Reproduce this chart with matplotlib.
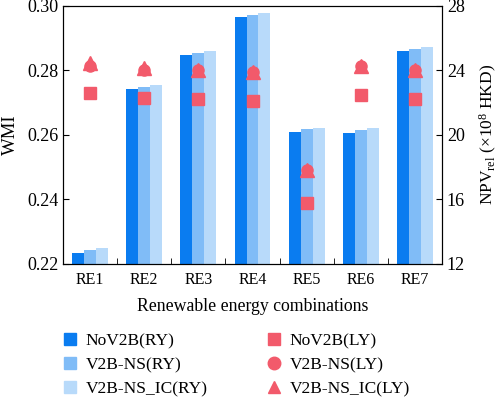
import matplotlib
matplotlib.use("Agg")
import matplotlib.pyplot as plt
from matplotlib.lines import Line2D
import numpy as np

plt.rcParams['font.family'] = ['Liberation Serif', 'DejaVu Serif']
plt.rcParams['mathtext.fontset'] = 'custom'
plt.rcParams['mathtext.rm'] = 'Liberation Serif'
plt.rcParams['mathtext.it'] = 'Liberation Serif:italic'
plt.rcParams['font.size'] = 12

categories = ["RE1", "RE2", "RE3", "RE4", "RE5", "RE6", "RE7"]
wmi_nov2b = [0.2235, 0.2743, 0.2848, 0.2965, 0.2610, 0.2607, 0.2859]
wmi_ns = [0.2243, 0.2750, 0.2855, 0.2971, 0.2618, 0.2616, 0.2865]
wmi_ns_ic = [0.2249, 0.2755, 0.2860, 0.2977, 0.2623, 0.2621, 0.2872]
npv_nov2b = [22.6, 22.3, 22.2, 22.1, 15.8, 22.5, 22.25]
npv_ns = [24.3, 24.0, 24.0, 23.9, 17.8, 24.3, 24.0]
npv_ns_ic = [24.45, 24.15, 24.0, 23.9, 17.8, 24.3, 24.0]

c1, c2, c3 = "#0A7CF0", "#80BCF7", "#B8DAFA"
cm = "#F25A6B"

fig = plt.figure(figsize=(5.0, 3.98), dpi=100)
ax = fig.add_axes([0.126, 0.337, 0.758, 0.648])
x = np.arange(len(categories))
w = 0.22
ax.bar(x - w, wmi_nov2b, w, color=c1, linewidth=0)
ax.bar(x, wmi_ns, w, color=c2, linewidth=0)
ax.bar(x + w, wmi_ns_ic, w, color=c3, linewidth=0)
ax.set_xlim(-0.5, 6.5)
ax.set_ylim(0.22, 0.30)
ax.set_yticks([0.22, 0.24, 0.26, 0.28, 0.30])
ax.set_yticklabels(["0.22", "0.24", "0.26", "0.28", "0.30"], fontsize=13)
ax.set_xticks(x)
ax.set_xticklabels(categories, fontsize=11.5)
ax.set_xticks(np.arange(0.5, 6.0, 1.0), minor=True)
ax.tick_params(axis='x', which='major', length=0, pad=6)
ax.tick_params(axis='x', which='minor', direction='in', length=4)
ax.tick_params(axis='y', direction='in', length=4)
ax.set_ylabel("WMI", fontsize=13.5, labelpad=6)
ax.set_xlabel("Renewable energy combinations", fontsize=12.8, labelpad=7)

ax2 = ax.twinx()
ax2.plot(x, npv_nov2b, 's', color=cm, markersize=8, linestyle='none')
ax2.plot(x, npv_ns_ic, '^', color=cm, markersize=10.5, linestyle='none')
ax2.plot(x, npv_ns, 'o', color=cm, markersize=8, linestyle='none')
ax2.set_ylim(12, 28)
ax2.set_yticks([12, 16, 20, 24, 28])
ax2.set_yticklabels(["12", "16", "20", "24", "28"], fontsize=13)
ax2.tick_params(axis='y', direction='in', length=4)
ax2.set_ylabel(r"NPV$_{\rm rel}$ (×10$^8$ HKD)", fontsize=12.5, labelpad=9)

handles = [
    Line2D([], [], marker='s', color=c1, linestyle='none', markersize=9),
    Line2D([], [], marker='s', color=c2, linestyle='none', markersize=9),
    Line2D([], [], marker='s', color=c3, linestyle='none', markersize=9),
    Line2D([], [], marker='s', color=cm, linestyle='none', markersize=9),
    Line2D([], [], marker='o', color=cm, linestyle='none', markersize=9),
    Line2D([], [], marker='^', color=cm, linestyle='none', markersize=9),
]
labels = ["NoV2B(RY)", "V2B-NS(RY)", "V2B-NS_IC(RY)",
          "NoV2B(LY)", "V2B-NS(LY)", "V2B-NS_IC(LY)"]
fig.legend(handles, labels, ncol=2, frameon=False, fontsize=12.5,
           loc='upper left', bbox_to_anchor=(0.109, 0.180),
           handlelength=1.0, handletextpad=0.4, columnspacing=3.3,
           labelspacing=0.45, borderaxespad=0)

fig.savefig("out.png", dpi=100)
